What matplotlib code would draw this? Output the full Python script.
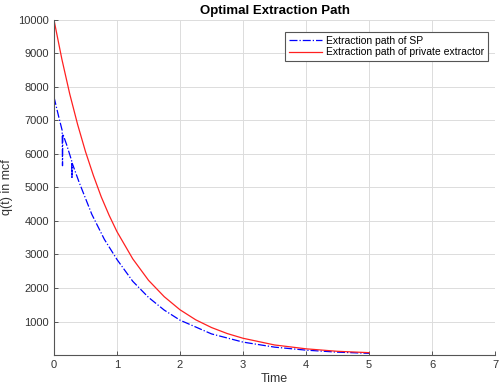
import matplotlib
matplotlib.use('Agg')
import matplotlib.pyplot as plt

plt.rcParams['font.family'] = ['Liberation Sans', 'DejaVu Sans']

# --- DATA ---
# Extraction path of social planner (with glitches near the start)
t_sp = [0, 0.07, 0.13, 0.135, 0.14, 0.2, 0.28, 0.285, 0.29, 0.4, 0.6, 0.8,
        1.0, 1.25, 1.5, 1.75, 2.0, 2.5, 3.0, 3.5, 4.0, 4.5, 5.0]
q_sp = [7700, 7150, 6700, 5650, 6600, 6280, 5800, 5300, 5720, 5150, 4200, 3450,
        2850, 2200, 1720, 1340, 1040, 630, 385, 235, 145, 85, 50]

# Extraction path of private extractor
t_pe = [0, 0.125, 0.25, 0.375, 0.5, 0.625, 0.75, 0.875, 1.0, 1.25, 1.5, 1.75,
        2.0, 2.25, 2.5, 2.75, 3.0, 3.5, 4.0, 4.5, 5.0]
q_pe = [10000, 8830, 7790, 6880, 6070, 5360, 4720, 4170, 3680, 2870, 2230, 1740,
        1350, 1050, 820, 640, 500, 300, 185, 110, 70]

x_ticks = [0, 1, 2, 3, 4, 5, 6, 7]
y_ticks = [1000, 2000, 3000, 4000, 5000, 6000, 7000, 8000, 9000, 10000]

# --- PLOT ---
fig = plt.figure(figsize=(5, 3.89), dpi=100)
ax = fig.add_axes([0.108, 0.0874, 0.882, 0.8612])

ax.plot(t_sp, q_sp, '-.', color='#0000ff', linewidth=0.9, label='Extraction path of SP')
ax.plot(t_pe, q_pe, '-', color='#ff2020', linewidth=0.9, label='Extraction path of private extractor')

ax.set_xlim(0, 7)
ax.set_ylim(0, 10000)
ax.set_xticks(x_ticks)
ax.set_yticks(y_ticks)
ax.grid(True, color='#dcdcdc', linewidth=0.7)
ax.set_axisbelow(True)

for s in ['top', 'right']:
    ax.spines[s].set_visible(False)
for s in ['left', 'bottom']:
    ax.spines[s].set_color('#555555')
    ax.spines[s].set_linewidth(0.8)
ax.tick_params(direction='in', length=3, width=0.7, colors='#555555',
               labelcolor='#333333', labelsize=8)

ax.set_title('Optimal Extraction Path', fontsize=9.5, fontweight='bold', pad=4)
ax.set_xlabel('Time', fontsize=9, color='#333333', labelpad=2)
ax.set_ylabel('q(t) in mcf', fontsize=9, color='#333333', labelpad=4)

leg = ax.legend(loc='upper right', bbox_to_anchor=(0.984, 0.964), fontsize=7.5,
                fancybox=False, framealpha=1, edgecolor='#555555',
                handlelength=3.2, handletextpad=0.4, borderpad=0.35,
                labelspacing=0.15, borderaxespad=0)
leg.get_frame().set_linewidth(0.8)

plt.savefig('out.png', dpi=100)
